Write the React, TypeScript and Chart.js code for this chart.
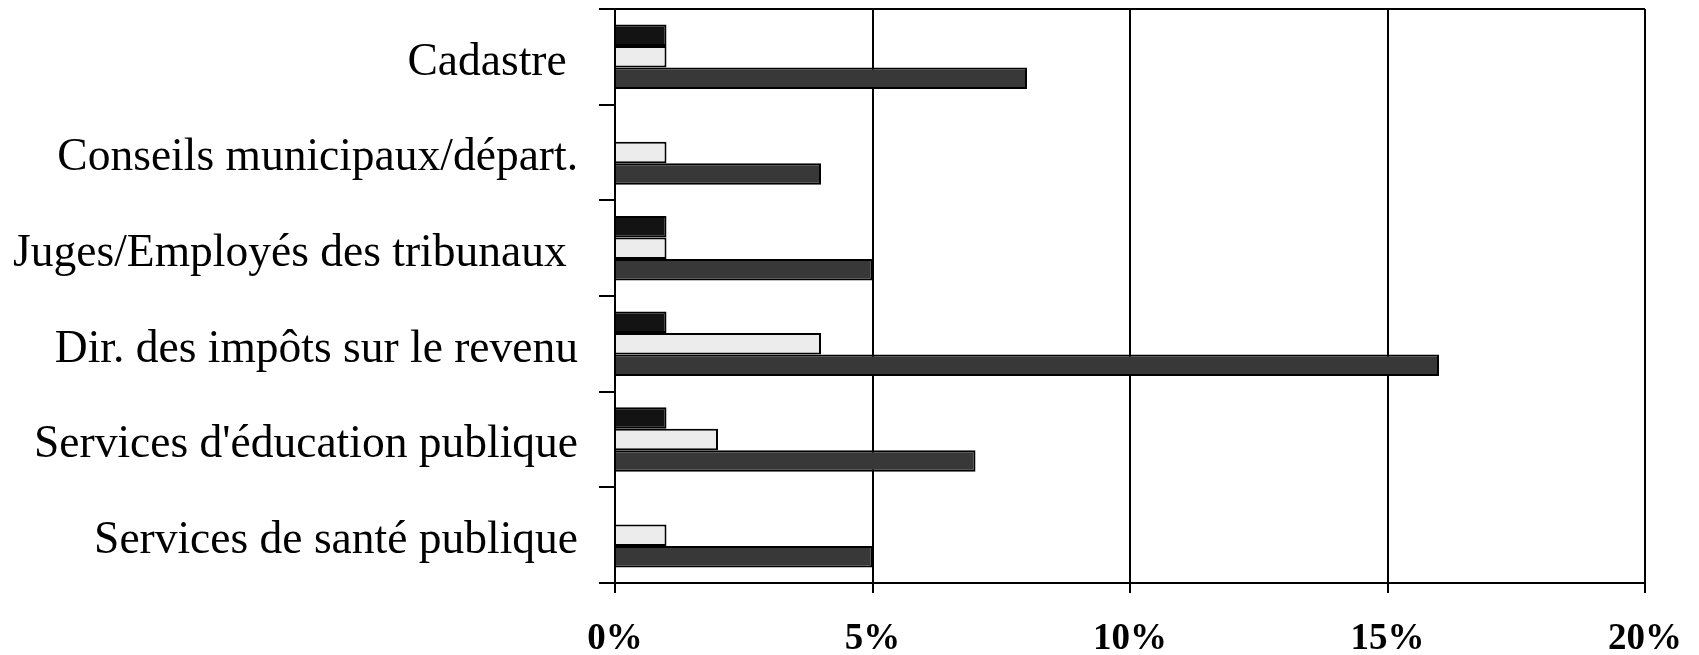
import React, { useEffect, useRef } from "react";
import { Chart, registerables } from "chart.js";

Chart.register(...registerables);

const categories = [
  "Cadastre ",
  "Conseils municipaux/départ.",
  "Juges/Employés des tribunaux ",
  "Dir. des impôts sur le revenu",
  "Services d'éducation publique",
  "Services de santé publique",
];
const seriesBlack = [1, 0, 1, 1, 1, 0];
const seriesLight = [1, 1, 1, 4, 2, 1];
const seriesDark = [8, 4, 5, 16, 7, 5];
const xTicks = [0, 5, 10, 15, 20];

export default function App() {
  const ref = useRef<HTMLCanvasElement>(null);
  useEffect(() => {
    if (!ref.current) return;
    const mk = (data: number[], color: string) => ({
      data,
      backgroundColor: color,
      borderColor: "#000",
      borderWidth: 2,
      borderSkipped: "start" as const,
      categoryPercentage: 0.674,
      barPercentage: 1,
    });
    const chart = new Chart(ref.current, {
      type: "bar",
      data: {
        labels: categories,
        datasets: [
          mk(seriesBlack, "#131313"),
          mk(seriesLight, "#ececec"),
          mk(seriesDark, "#383838"),
        ],
      },
      options: {
        indexAxis: "y",
        animation: false,
        responsive: false,
        maintainAspectRatio: false,
        layout: { padding: { top: 9, right: 54, left: 0, bottom: 0 } },
        plugins: { legend: { display: false }, tooltip: { enabled: false } },
        scales: {
          x: {
            min: 0,
            max: 20,
            afterBuildTicks: (scale: any) => {
              scale.ticks = xTicks.map((v) => ({ value: v }));
            },
            afterFit: (scale: any) => {
              scale.height = 72;
              scale.paddingLeft = 0;
              scale.paddingRight = 0;
            },
            border: { color: "#000", width: 2 },
            grid: {
              color: "#000",
              lineWidth: 2,
              tickLength: 10,
              tickColor: "#000",
            },
            ticks: {
              color: "#000",
              padding: 24,
              font: { family: "Liberation Serif", size: 37, weight: "bold" },
              callback: (v: any) => v + "%",
            },
          },
          y: {
            afterFit: (scale: any) => {
              scale.width = 615;
              scale.paddingTop = 0;
              scale.paddingBottom = 0;
            },
            border: { color: "#000", width: 2 },
            grid: {
              offset: true,
              color: (ctx: any) => (ctx.index === 0 ? "#000" : "rgba(0,0,0,0)"),
              tickColor: "#000",
              lineWidth: 2,
              tickLength: 16,
            },
            ticks: {
              color: "#000",
              padding: 21,
              labelOffset: 6,
              font: { family: "Liberation Serif", size: 45.5 },
            },
          },
        },
      },
    });
    return () => chart.destroy();
  }, []);
  return (
    <div style={{ position: "fixed", left: 0, top: 0, width: 1699, height: 655, background: "#fff" }}>
      <canvas ref={ref} width={1699} height={655} style={{ width: 1699, height: 655 }} />
    </div>
  );
}
